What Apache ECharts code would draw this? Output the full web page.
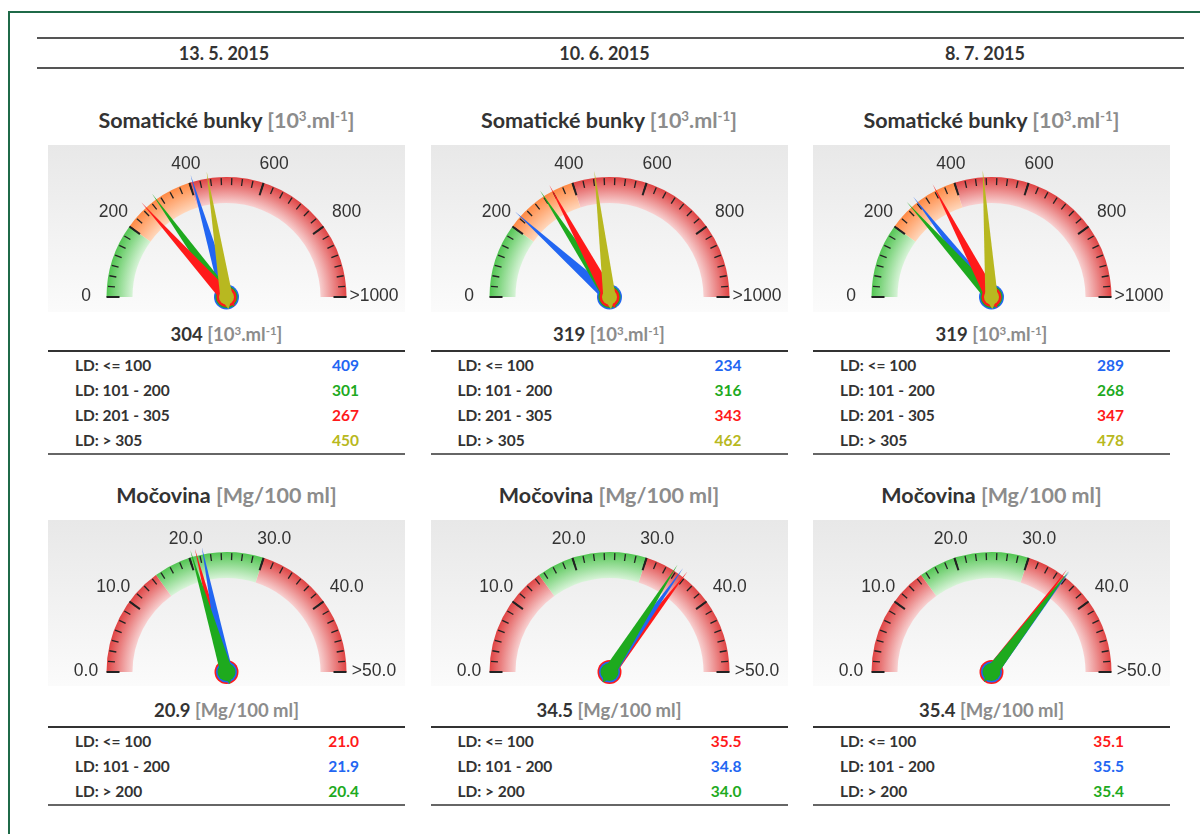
<!DOCTYPE html>
<html>
<head>
<meta charset="utf-8">
<title>Somatické bunky a močovina</title>
<script src="https://cdn.jsdelivr.net/npm/echarts@6.0.0/dist/echarts.min.js"></script>
<style>
body { margin: 0; background: #fff; font-family: Lato, 'Noto Sans', sans-serif; color: #333; }
#frame { position: absolute; left: 8px; top: 11px; width: 1200px; height: 900px;
  border-left: 2px solid #1f6a48; border-top: 2px solid #1f6a48; }
.hline { position: absolute; height: 2px; background: #555; }
.date { position: absolute; top: 43px; width: 300px; text-align: center; font-weight: bold;
  font-size: 18px; line-height: 20px; color: #333; }
.panel { position: absolute; top: 0; width: 357px; }
.title { position: absolute; left: 0; width: 357px; text-align: center; font-weight: bold;
  font-size: 21.5px; line-height: 24px; color: #333; white-space: nowrap; }
.value { position: absolute; left: 0; width: 357px; text-align: center; font-weight: bold;
  font-size: 18.5px; line-height: 22px; color: #333; white-space: nowrap; }
.unit { color: #8c8c8c; }
sup { font-size: 0.62em; vertical-align: 0.55em; line-height: 0; }
.gauge { position: absolute; left: 0; width: 357px; background: linear-gradient(#e8e8e8, #fbfbfb); }
.rule { position: absolute; left: 0; width: 357px; height: 2px; }
.row { position: absolute; left: 27px; width: 284px; height: 20px; line-height: 20px;
  font-weight: bold; font-size: 15.5px; }
.row .lab { position: absolute; left: 0; color: #333; }
.row .num { position: absolute; right: 0; }
</style>
</head>
<body>
<div id="frame"></div>
<div class="hline" style="left:37px;width:1147px;top:37px"></div>
<div class="hline" style="left:37px;width:1147px;top:67px"></div>
<div id="page"></div>
<script>
var dates = ['13. 5. 2015', '10. 6. 2015', '8. 7. 2015'];

// somatické bunky
var scbGroups = ['LD: <= 100', 'LD: 101 - 200', 'LD: 201 - 305', 'LD: > 305'];
var scbValues = [
    [409, 301, 267, 450],
    [234, 316, 343, 462],
    [289, 268, 347, 478]
];
var scbTotals = [304, 319, 319];
var scbTickLabels = ['0', '200', '400', '600', '800', '>1000'];
var scbBandEdges = [200, 400, 1000];

// močovina
var ureaGroups = ['LD: <= 100', 'LD: 101 - 200', 'LD: > 200'];
var ureaValues = [
    [21.0, 21.9, 20.4],
    [35.5, 34.8, 34.0],
    [35.1, 35.5, 35.4]
];
var ureaTotals = [20.9, 34.5, 35.4];
var ureaTickLabels = ['0.0', '10.0', '20.0', '30.0', '40.0', '>50.0'];
var ureaBandEdges = [15, 30, 50];

var scbColors = ['#2266f2', '#1eaa1e', '#ff1a1a', '#b8b820'];
var ureaColors = ['#ff1a1a', '#2266f2', '#1eaa1e'];
var scbAnchors = [25, 22, 20, 15];
var ureaAnchors = [24, 21, 18];
var GREEN = ['#52c552', '#d9f4d9'], ORANGE = ['#ff8a45', '#ffd8bd'], RED = ['#df4343', '#f8d2d2'];

var SCB_UNIT = '<span class="unit">[10<sup>3</sup>.ml<sup>-1</sup>]</span>';
var UREA_UNIT = '<span class="unit">[Mg/100 ml]</span>';

var page = document.getElementById('page');
var charts = [];

function el(cls, style, html) {
    var d = document.createElement('div');
    d.className = cls;
    d.setAttribute('style', style);
    if (html != null) d.innerHTML = html;
    return d;
}

function fmt(v, decimals) {
    return v.toFixed(decimals);
}

function gaugeOption(values, colors, anchors, min, max, edges, bands, tickLabels) {
    var cx = 178.5, cy = 152, r = 120, band = 26;
    var stops = edges.map(function (e, i) {
        return [(e - min) / (max - min), new echarts.graphic.RadialGradient(cx, cy, r, [
            { offset: 0, color: bands[i][1] },
            { offset: 0.78, color: bands[i][1] },
            { offset: 1, color: bands[i][0] }
        ], true)];
    });
    var series = values.map(function (v, i) {
        var first = i === 0;
        return {
            type: 'gauge',
            center: [cx, cy],
            radius: r,
            startAngle: 180,
            endAngle: 0,
            min: min,
            max: max,
            splitNumber: 5,
            animation: false,
            axisLine: { show: first, lineStyle: { width: band, color: stops } },
            splitLine: { show: first, distance: -band, length: 13, lineStyle: { color: '#222', width: 2 } },
            axisTick: { show: first, splitNumber: 7, distance: 1 - band, length: 7, lineStyle: { color: '#222', width: 1.3 } },
            axisLabel: {
                show: first,
                distance: band - 36,
                color: '#333',
                fontSize: 17.5,
                fontFamily: 'Liberation Sans',
                // labels are centred on their tick direction, like the original widget
                padding: [-7, -34.5, -5, -27.5],
                rich: {
                    t: { width: 60, height: 20, lineHeight: 20, align: 'center',
                        color: '#333', fontSize: 17.5, fontFamily: 'Liberation Sans' }
                },
                formatter: function (val) {
                    return '{t|' + tickLabels[Math.round((val - min) / (max - min) * 5)] + '}';
                }
            },
            pointer: { length: '106%', width: 6.2, itemStyle: { color: colors[i] } },
            anchor: { show: true, size: anchors[i], itemStyle: { color: colors[i] } },
            title: { show: false },
            detail: { show: false },
            data: [{ value: v }]
        };
    });
    return { animation: false, series: series };
}

function block(panel, top, gap, titleHtml, totalHtml, groups, values, colors, decimals, opt, gaugeH) {
    panel.appendChild(el('title', 'top:' + (top) + 'px', titleHtml));
    var g = el('gauge', 'top:' + (top + 37) + 'px;height:' + gaugeH + 'px');
    panel.appendChild(g);
    var chart = echarts.init(g, null, { renderer: 'canvas' });
    chart.setOption(opt);
    charts.push(chart);
    var t0 = top + 37 + gaugeH + gap;
    panel.appendChild(el('value', 'top:' + (t0 + 11) + 'px', totalHtml));
    panel.appendChild(el('rule', 'top:' + (t0 + 38) + 'px;background:#333'));
    groups.forEach(function (name, k) {
        var row = el('row', 'top:' + (t0 + 43 + 25 * k) + 'px',
            '<span class="lab">' + name + '</span><span class="num" style="color:' + colors[k] + '">' +
            fmt(values[k], decimals) + '</span>');
        panel.appendChild(row);
    });
    panel.appendChild(el('rule', 'top:' + (t0 + 39 + 25 * groups.length + 2) + 'px;background:#666'));
}

dates.forEach(function (d, i) {
    page.appendChild(el('date', 'left:' + (224 + 380.5 * i - 150) + 'px', d));
    var panel = el('panel', 'left:' + (48 + 382.5 * i) + 'px');
    page.appendChild(panel);

    block(panel, 108, 0, 'Somatické bunky ' + SCB_UNIT, scbTotals[i] + ' ' + SCB_UNIT,
        scbGroups, scbValues[i], scbColors, 0,
        gaugeOption(scbValues[i], scbColors, scbAnchors, 0, 1000, scbBandEdges,
            [GREEN, ORANGE, RED], scbTickLabels), 167);

    block(panel, 483, 2, 'Močovina ' + UREA_UNIT, fmt(ureaTotals[i], 1) + ' ' + UREA_UNIT,
        ureaGroups, ureaValues[i], ureaColors, 1,
        gaugeOption(ureaValues[i], ureaColors, ureaAnchors, 0, 50, ureaBandEdges,
            [RED, GREEN, RED], ureaTickLabels), 166);
});

window.addEventListener('resize', function () {
    charts.forEach(function (c) { c.resize(); });
});
</script>
</body>
</html>
